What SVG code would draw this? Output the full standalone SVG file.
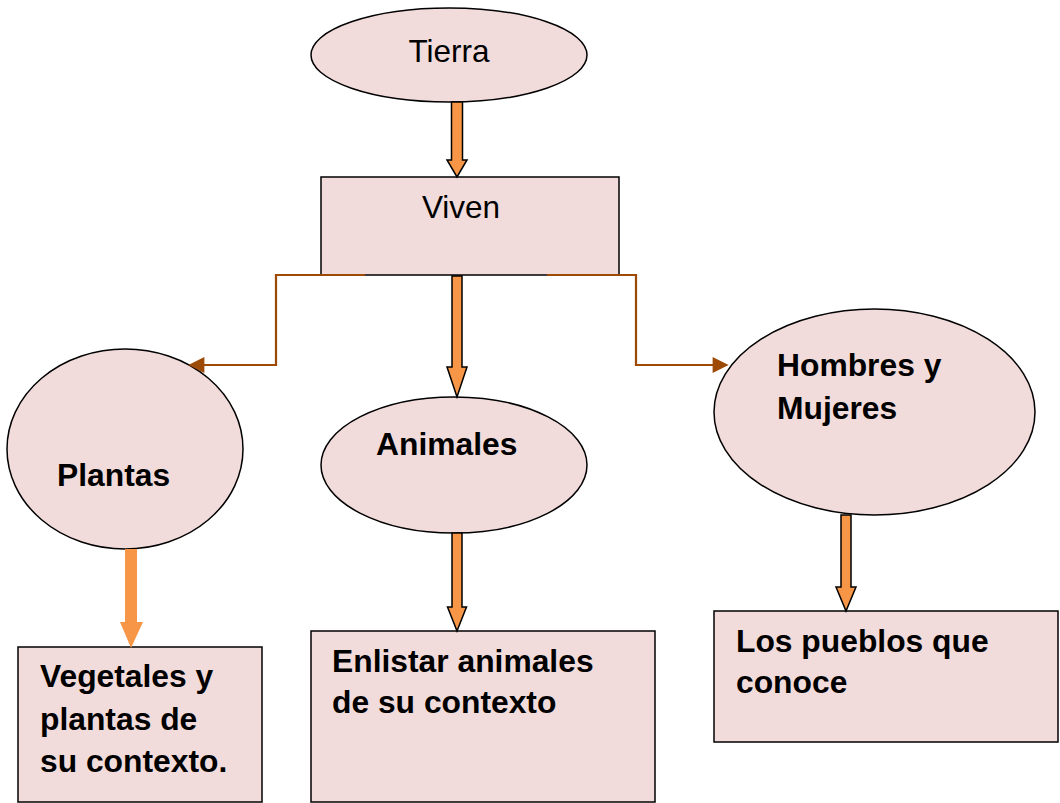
<svg xmlns="http://www.w3.org/2000/svg" width="1060" height="803" viewBox="0 0 1060 803">
<defs>
<style>
.node{fill:#F2DCDB;stroke:#000;stroke-width:1.5}
.t{font-family:"Liberation Sans",Arial,sans-serif;font-size:31.5px;fill:#000}
.b{font-weight:bold;font-size:31.8px}
.blk{fill:#F79646;stroke:#000;stroke-width:1.5;stroke-linejoin:miter}
.blk2{fill:#F79646;stroke:none}
.elb{fill:none;stroke:#9C4A06;stroke-width:2.2}
</style>
<marker id="ah" viewBox="0 0 10 10" refX="9" refY="5" markerWidth="18" markerHeight="16" markerUnits="userSpaceOnUse" orient="auto">
<path d="M0,0 L10,5 L0,10 z" fill="#9C4A06"/>
</marker>
</defs>
<rect width="1060" height="803" fill="#fff"/>
<g id="tierra">
<ellipse class="node" cx="449" cy="55" rx="138" ry="47"/>
<text class="t" x="449" y="62" text-anchor="middle">Tierra</text>
</g>
<g id="viven">
<rect class="node" x="321" y="177" width="298" height="98"/>
<text class="t" x="461" y="218" text-anchor="middle">Viven</text>
</g>
<g id="plantas">
<ellipse class="node" cx="125" cy="449" rx="118" ry="100"/>
<text class="t b" x="57" y="486">Plantas</text>
</g>
<g id="animales">
<ellipse class="node" cx="454" cy="465" rx="133" ry="68"/>
<text class="t b" x="376" y="455">Animales</text>
</g>
<g id="hombres">
<ellipse class="node" cx="874.5" cy="412" rx="160.5" ry="103"/>
<text class="t b" x="777" y="376">Hombres y</text>
<text class="t b" x="777" y="419">Mujeres</text>
</g>
<g id="vegetales">
<rect class="node" x="18" y="647" width="244" height="155"/>
<text class="t b" x="40" y="687">Vegetales y</text>
<text class="t b" x="40" y="730">plantas de</text>
<text class="t b" x="40" y="772">su contexto.</text>
</g>
<g id="enlistar">
<rect class="node" x="311" y="631" width="344" height="171"/>
<text class="t b" x="332" y="672">Enlistar animales</text>
<text class="t b" x="332" y="713">de su contexto</text>
</g>
<g id="pueblos">
<rect class="node" x="714" y="611" width="344" height="131"/>
<text class="t b" x="736" y="652">Los pueblos que</text>
<text class="t b" x="736" y="693">conoce</text>
</g>
<g id="connectors">
<polygon class="blk" points="451.5,102 462.5,102 462.5,160 467,160 457,177 447,160 451.5,160"/>
<polygon class="blk" points="452,276 462,276 462,367 467,367 457,397 447,367 452,367"/>
<polygon class="blk" points="452,533 462,533 462,607 466.5,607 457,631 447.5,607 452,607"/>
<polygon class="blk" points="841,515 851,515 851,587 856,587 846,611 836,587 841,587"/>
<polygon class="blk2" points="125,549 137,549 137,622 143,622 131,648 120,622 125,622"/>
<polyline class="elb" points="365,275 276,275 276,365 190,365" marker-end="url(#ah)"/>
<polyline class="elb" points="547,275 636,275 636,365 727,365" marker-end="url(#ah)"/>
</g>
</svg>
